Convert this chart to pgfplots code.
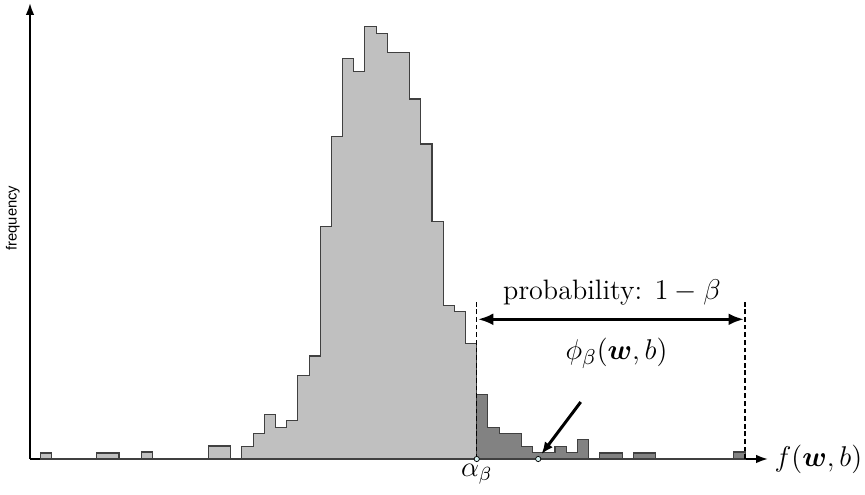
\documentclass[border=0pt]{standalone}
\usepackage{amsmath,bm}
\usepackage{fontspec}
\newfontfamily\helv{Liberation Sans}
\usepackage{pgfplots}
\pgfplotsset{compat=1.18}
\usetikzlibrary{arrows.meta}

\definecolor{lightbar}{RGB}{192,192,192}
\definecolor{darkbar}{RGB}{130,130,130}
\definecolor{dotfill}{RGB}{215,240,240}

\begin{document}
\begin{tikzpicture}
% page frame, 1px = 0.42pt
\path[use as bounding box] (-12.6pt,-15.12pt) rectangle (350.7pt,192.78pt);
\begin{axis}[
    at={(0,0)}, anchor=south west,
    scale only axis,
    width=309.96pt, height=191.52pt,
    xmin=-0.957, xmax=65.05,
    ymin=0, ymax=456,
    axis lines=left,
    axis line style={-{Latex[length=5pt,width=3.6pt]}, line width=0.85pt},
    xtick=\empty, ytick=\empty,
    clip=false,
]
% bins left of alpha_beta
\addplot[const plot, fill=lightbar, draw=black!75, line width=0.45pt] coordinates {
(0,6)(1,0)(5,6)(7,0)(9,7)(10,0)(15,13)(17,0)(18,12.5)(19,25.5)(20,44.7)
(21,31.7)(22,38.3)(23,83.7)(24,103)(25,232.3)(26,322.3)(27,400.3)(28,387.3)
(29,432.3)(30,425.7)(31,406.3)(33,360)(34,315)(35,237.3)(36,153.7)(37,147.3)
(38,115.7)(39,115.7)} \closedcycle;
% tail bins
\addplot[const plot, fill=darkbar, draw=black!75, line width=0.45pt] coordinates {
(39,64.3)(40,31.7)(41,25.7)(43,12.3)(44,6.3)(46,12.3)(47,6.3)(48,19.3)(49,0)
(50,6)(52,0)(53,6)(55,0)(62,7)(63,7)} \closedcycle;
% dashed bounds
\addplot[black, line width=0.55pt, dash pattern=on 2pt off 1.2pt] coordinates {(39,0)(39,158)};
\addplot[black, line width=0.55pt, dash pattern=on 2pt off 1.2pt] coordinates {(63,0)(63,158)};
% probability arrow
\draw[{Latex[length=6.5pt,width=5pt]}-{Latex[length=6.5pt,width=5pt]}, line width=1.25pt]
  (axis cs:39.1,139.7) -- (axis cs:62.9,139.7);
\node[font=\fontsize{11.8}{14}\selectfont] at (axis cs:51.1,167) {probability: $1-\beta$};
% phi label and arrow
\node[font=\fontsize{13}{15}\selectfont] at (axis cs:51.5,106) {$\phi_\beta(\bm{w},b)$};
\draw[-{Latex[length=5pt,width=4.2pt]}, line width=1.25pt]
  (axis cs:48.3,57) -- (axis cs:44.8,5);
% points on axis
\addplot[only marks, mark=*, mark size=1.1pt, mark options={fill=dotfill, draw=black, line width=0.3pt}]
  coordinates {(39,0)(44.5,0)};
% labels
\node[anchor=north, font=\fontsize{12}{14}\selectfont, inner sep=1pt] at (axis cs:39,-2) {$\alpha_\beta$};
\node[anchor=west, font=\fontsize{13.2}{15}\selectfont, inner sep=0pt] at (axis cs:65.6,0) {$f(\bm{w},b)$};
\node[rotate=90, font=\helv\fontsize{6.2}{7}\selectfont] at ([xshift=-7.2pt]rel axis cs:0,0.528) {frequency};
\end{axis}
\end{tikzpicture}
\end{document}
